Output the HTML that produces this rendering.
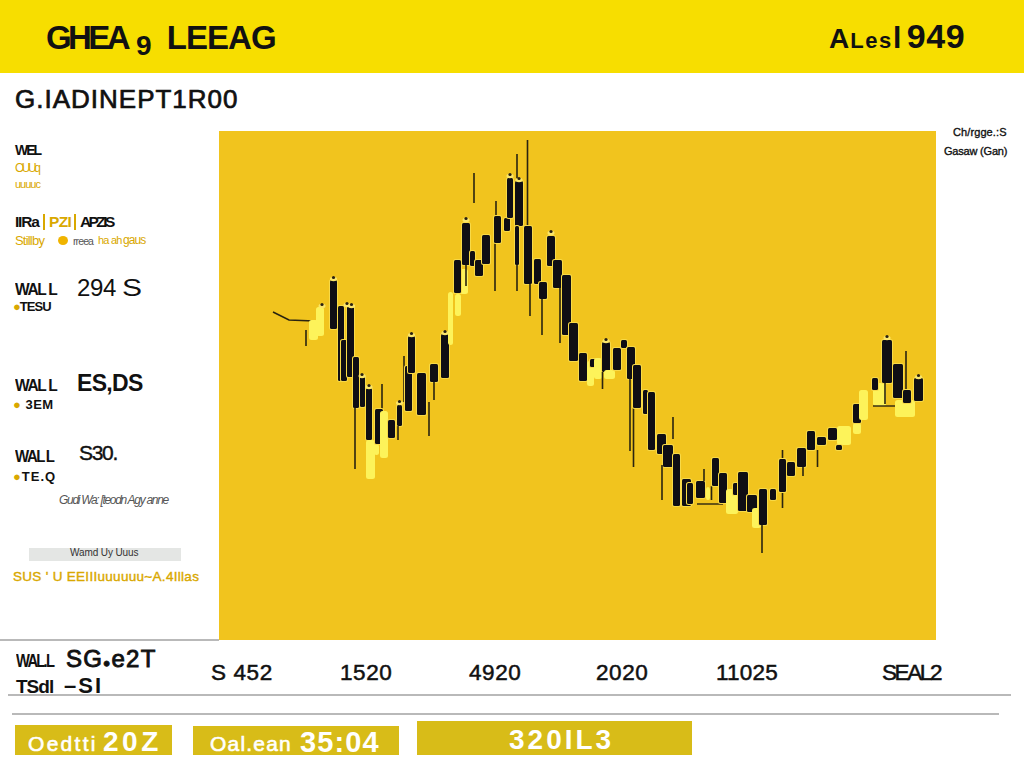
<!DOCTYPE html>
<html><head><meta charset="utf-8">
<style>
*{margin:0;padding:0;box-sizing:border-box}
html,body{width:1024px;height:768px;overflow:hidden;background:#fff;font-family:"Liberation Sans",sans-serif;color:#111}
.a{position:absolute;white-space:nowrap;line-height:1}
#hdr{position:absolute;left:0;top:0;width:1024px;height:73px;background:#F7DE00}
#chart{position:absolute;left:219px;top:131px;width:717px;height:509px;background:#F1C41E}
.hl{position:absolute;height:2px;background:#b9b9b9}
.btn{position:absolute;background:#D8BC18;color:#fff;font-weight:bold}
.gold{color:#D9A800}
</style></head><body>
<div id="hdr"></div>
<div class="a" id="t1" style="left:46px;top:21px;font-size:33px;font-weight:bold;letter-spacing:-0.9px"><span style="letter-spacing:-3.6px">GHEA</span><span style="font-size:28px;position:relative;top:6px;margin-left:9px;margin-right:16px">9</span>LEEAG</div>
<div class="a" id="t2" style="left:829px;top:19px;font-size:34px;font-weight:bold;letter-spacing:-0.6px"><span style="font-size:28px;letter-spacing:1px">A</span><span style="font-size:22px;letter-spacing:1.6px">Les</span><span style="font-size:30px">l</span><span style="margin-left:6px;letter-spacing:0.6px">949</span></div>
<div class="a" id="t3" style="left:15px;top:86px;font-size:26px;letter-spacing:1.0px;-webkit-text-stroke:0.7px #111">G.IADINEPT1R00</div>

<div id="chart"><svg id="cs" width="717" height="509" viewBox="0 0 717 509" style="position:absolute;left:0;top:0"><polyline points="54,181 70,189 95,190" fill="none" stroke="#2a2410" stroke-width="1.6"/><line x1="87" y1="199" x2="87" y2="215" stroke="#2a2410" stroke-width="1.6"/><rect x="90" y="189" width="9" height="20" rx="2.5" fill="#FDF35A"/><rect x="97" y="176" width="8" height="29" rx="2.5" fill="#FDF35A"/><rect x="111" y="149" width="7" height="49" rx="1.5" fill="#0f0e14" stroke="#F8DA48" stroke-width="2" paint-order="stroke"/><rect x="119" y="175" width="6" height="75" rx="1.5" fill="#0f0e14" stroke="#F8DA48" stroke-width="2" paint-order="stroke"/><rect x="122" y="209" width="6" height="41" rx="1.5" fill="#0f0e14" stroke="#F8DA48" stroke-width="2" paint-order="stroke"/><rect x="128" y="175" width="7" height="71" rx="1.5" fill="#0f0e14" stroke="#F8DA48" stroke-width="2" paint-order="stroke"/><rect x="134" y="226" width="6" height="51" rx="1.5" fill="#0f0e14" stroke="#F8DA48" stroke-width="2" paint-order="stroke"/><line x1="136" y1="277" x2="136" y2="338" stroke="#2a2410" stroke-width="1.6"/><rect x="141" y="245" width="5" height="31" rx="1.5" fill="#0f0e14" stroke="#F8DA48" stroke-width="2" paint-order="stroke"/><rect x="147" y="257" width="6" height="52" rx="1.5" fill="#0f0e14" stroke="#F8DA48" stroke-width="2" paint-order="stroke"/><rect x="147" y="309" width="9" height="39" rx="2.5" fill="#FDF35A"/><rect x="155" y="313" width="5" height="11" rx="2.5" fill="#FDF35A"/><line x1="163" y1="253" x2="163" y2="278" stroke="#2a2410" stroke-width="1.6"/><rect x="156" y="278" width="8" height="35" rx="1.5" fill="#0f0e14" stroke="#F8DA48" stroke-width="2" paint-order="stroke"/><rect x="161" y="280" width="8" height="47" rx="2.5" fill="#FDF35A"/><rect x="169" y="289" width="7" height="18" rx="1.5" fill="#0f0e14" stroke="#F8DA48" stroke-width="2" paint-order="stroke"/><rect x="178" y="274" width="5" height="21" rx="1.5" fill="#0f0e14" stroke="#F8DA48" stroke-width="2" paint-order="stroke"/><line x1="179" y1="295" x2="179" y2="309" stroke="#2a2410" stroke-width="1.6"/><line x1="185" y1="225" x2="185" y2="271" stroke="#2a2410" stroke-width="1.6"/><rect x="186" y="235" width="7" height="45" rx="1.5" fill="#0f0e14" stroke="#F8DA48" stroke-width="2" paint-order="stroke"/><rect x="189" y="205" width="7" height="37" rx="1.5" fill="#0f0e14" stroke="#F8DA48" stroke-width="2" paint-order="stroke"/><rect x="198" y="242" width="9" height="42" rx="1.5" fill="#0f0e14" stroke="#F8DA48" stroke-width="2" paint-order="stroke"/><line x1="210" y1="271" x2="210" y2="305" stroke="#2a2410" stroke-width="1.6"/><rect x="211" y="233" width="8" height="18" rx="1.5" fill="#0f0e14" stroke="#F8DA48" stroke-width="2" paint-order="stroke"/><line x1="215" y1="251" x2="215" y2="269" stroke="#2a2410" stroke-width="1.6"/><rect x="222" y="203" width="8" height="44" rx="1.5" fill="#0f0e14" stroke="#F8DA48" stroke-width="2" paint-order="stroke"/><rect x="229" y="161" width="5" height="53" rx="2.5" fill="#FDF35A"/><rect x="234" y="138" width="15" height="25" rx="2.5" fill="#FDF35A"/><rect x="236" y="163" width="6" height="22" rx="2.5" fill="#FDF35A"/><rect x="235" y="129" width="7" height="33" rx="1.5" fill="#0f0e14" stroke="#F8DA48" stroke-width="2" paint-order="stroke"/><rect x="243" y="92" width="8" height="42" rx="1.5" fill="#0f0e14" stroke="#F8DA48" stroke-width="2" paint-order="stroke"/><line x1="247" y1="134" x2="247" y2="155" stroke="#2a2410" stroke-width="1.6"/><line x1="255" y1="42" x2="255" y2="72" stroke="#2a2410" stroke-width="1.6"/><rect x="251" y="120" width="5" height="15" rx="1.5" fill="#0f0e14" stroke="#F8DA48" stroke-width="2" paint-order="stroke"/><rect x="256" y="129" width="8" height="16" rx="1.5" fill="#0f0e14" stroke="#F8DA48" stroke-width="2" paint-order="stroke"/><rect x="263" y="104" width="8" height="29" rx="1.5" fill="#0f0e14" stroke="#F8DA48" stroke-width="2" paint-order="stroke"/><line x1="276" y1="109" x2="276" y2="160" stroke="#2a2410" stroke-width="1.6"/><line x1="277" y1="70" x2="277" y2="86" stroke="#2a2410" stroke-width="1.6"/><rect x="275" y="85" width="7" height="27" rx="1.5" fill="#0f0e14" stroke="#F8DA48" stroke-width="2" paint-order="stroke"/><rect x="285" y="87" width="6" height="13" rx="1.5" fill="#0f0e14" stroke="#F8DA48" stroke-width="2" paint-order="stroke"/><rect x="288" y="47" width="6" height="40" rx="1.5" fill="#0f0e14" stroke="#F8DA48" stroke-width="2" paint-order="stroke"/><line x1="298" y1="23" x2="298" y2="51" stroke="#2a2410" stroke-width="1.6"/><rect x="296" y="50" width="8" height="45" rx="1.5" fill="#0f0e14" stroke="#F8DA48" stroke-width="2" paint-order="stroke"/><rect x="296" y="95" width="4" height="39" rx="1.5" fill="#0f0e14" stroke="#F8DA48" stroke-width="2" paint-order="stroke"/><line x1="298" y1="134" x2="298" y2="160" stroke="#2a2410" stroke-width="1.6"/><line x1="308.5" y1="9" x2="308.5" y2="97" stroke="#2a2410" stroke-width="1.6"/><rect x="305" y="95" width="8" height="58" rx="1.5" fill="#0f0e14" stroke="#F8DA48" stroke-width="2" paint-order="stroke"/><line x1="311" y1="153" x2="311" y2="185" stroke="#2a2410" stroke-width="1.6"/><rect x="315" y="128" width="7" height="25" rx="1.5" fill="#0f0e14" stroke="#F8DA48" stroke-width="2" paint-order="stroke"/><rect x="320" y="151" width="8" height="17" rx="1.5" fill="#0f0e14" stroke="#F8DA48" stroke-width="2" paint-order="stroke"/><line x1="323" y1="168" x2="323" y2="204" stroke="#2a2410" stroke-width="1.6"/><rect x="328" y="105" width="8" height="30" rx="1.5" fill="#0f0e14" stroke="#F8DA48" stroke-width="2" paint-order="stroke"/><rect x="334" y="129" width="9" height="28" rx="1.5" fill="#0f0e14" stroke="#F8DA48" stroke-width="2" paint-order="stroke"/><line x1="341" y1="157" x2="341" y2="212" stroke="#2a2410" stroke-width="1.6"/><rect x="343" y="144" width="9" height="60" rx="1.5" fill="#0f0e14" stroke="#F8DA48" stroke-width="2" paint-order="stroke"/><rect x="350" y="192" width="9" height="38" rx="1.5" fill="#0f0e14" stroke="#F8DA48" stroke-width="2" paint-order="stroke"/><rect x="360" y="222" width="8" height="28" rx="1.5" fill="#0f0e14" stroke="#F8DA48" stroke-width="2" paint-order="stroke"/><rect x="368" y="230" width="7" height="25" rx="2.5" fill="#FDF35A"/><rect x="371" y="228" width="6" height="8" rx="1.5" fill="#0f0e14" stroke="#F8DA48" stroke-width="2" paint-order="stroke"/><rect x="375" y="227" width="8" height="21" rx="2.5" fill="#FDF35A"/><rect x="383" y="211" width="8" height="30" rx="1.5" fill="#0f0e14" stroke="#F8DA48" stroke-width="2" paint-order="stroke"/><line x1="383.5" y1="241" x2="383.5" y2="258" stroke="#2a2410" stroke-width="1.6"/><rect x="385" y="239" width="11" height="9" rx="2.5" fill="#FDF35A"/><rect x="394" y="217" width="8" height="22" rx="1.5" fill="#0f0e14" stroke="#F8DA48" stroke-width="2" paint-order="stroke"/><rect x="402" y="209" width="6" height="8" rx="1.5" fill="#0f0e14" stroke="#F8DA48" stroke-width="2" paint-order="stroke"/><rect x="408" y="216" width="8" height="32" rx="1.5" fill="#0f0e14" stroke="#F8DA48" stroke-width="2" paint-order="stroke"/><line x1="411" y1="248" x2="411" y2="320" stroke="#2a2410" stroke-width="1.6"/><line x1="414.5" y1="277" x2="414.5" y2="336" stroke="#2a2410" stroke-width="1.6"/><rect x="414" y="234" width="8" height="43" rx="1.5" fill="#0f0e14" stroke="#F8DA48" stroke-width="2" paint-order="stroke"/><rect x="424" y="259" width="5" height="24" rx="1.5" fill="#0f0e14" stroke="#F8DA48" stroke-width="2" paint-order="stroke"/><rect x="429" y="261" width="7" height="58" rx="1.5" fill="#0f0e14" stroke="#F8DA48" stroke-width="2" paint-order="stroke"/><rect x="438" y="303" width="9" height="20" rx="1.5" fill="#0f0e14" stroke="#F8DA48" stroke-width="2" paint-order="stroke"/><rect x="444" y="314" width="10" height="22" rx="1.5" fill="#0f0e14" stroke="#F8DA48" stroke-width="2" paint-order="stroke"/><line x1="454" y1="286" x2="454" y2="308" stroke="#2a2410" stroke-width="1.6"/><line x1="443" y1="334" x2="443" y2="369" stroke="#2a2410" stroke-width="1.6"/><rect x="454" y="323" width="7" height="52" rx="1.5" fill="#0f0e14" stroke="#F8DA48" stroke-width="2" paint-order="stroke"/><rect x="463" y="348" width="9" height="27" rx="1.5" fill="#0f0e14" stroke="#F8DA48" stroke-width="2" paint-order="stroke"/><rect x="468" y="352" width="6" height="21" rx="1.5" fill="#0f0e14" stroke="#F8DA48" stroke-width="2" paint-order="stroke"/><rect x="477" y="350" width="9" height="17" rx="1.5" fill="#0f0e14" stroke="#F8DA48" stroke-width="2" paint-order="stroke"/><line x1="478" y1="373" x2="504" y2="373" stroke="#2a2410" stroke-width="1.4"/><rect x="487" y="356" width="4" height="13" rx="2.5" fill="#FDF35A"/><line x1="485" y1="338" x2="485" y2="350" stroke="#2a2410" stroke-width="1.6"/><line x1="492.5" y1="355" x2="492.5" y2="369" stroke="#2a2410" stroke-width="1.6"/><rect x="493" y="327" width="7" height="28" rx="1.5" fill="#0f0e14" stroke="#F8DA48" stroke-width="2" paint-order="stroke"/><rect x="500" y="342" width="8" height="30" rx="1.5" fill="#0f0e14" stroke="#F8DA48" stroke-width="2" paint-order="stroke"/><rect x="507" y="358" width="12" height="25" rx="2.5" fill="#FDF35A"/><rect x="514" y="352" width="6" height="12" rx="1.5" fill="#0f0e14" stroke="#F8DA48" stroke-width="2" paint-order="stroke"/><rect x="514" y="364" width="10" height="17" rx="2.5" fill="#FDF35A"/><rect x="519" y="341" width="10" height="39" rx="1.5" fill="#0f0e14" stroke="#F8DA48" stroke-width="2" paint-order="stroke"/><rect x="528" y="364" width="10" height="17" rx="1.5" fill="#0f0e14" stroke="#F8DA48" stroke-width="2" paint-order="stroke"/><rect x="533" y="377" width="9" height="20" rx="2.5" fill="#FDF35A"/><rect x="540" y="358" width="8" height="36" rx="1.5" fill="#0f0e14" stroke="#F8DA48" stroke-width="2" paint-order="stroke"/><line x1="543" y1="394" x2="543" y2="422" stroke="#2a2410" stroke-width="1.6"/><rect x="551" y="358" width="6" height="11" rx="1.5" fill="#0f0e14" stroke="#F8DA48" stroke-width="2" paint-order="stroke"/><line x1="563.5" y1="319" x2="563.5" y2="328" stroke="#2a2410" stroke-width="1.6"/><line x1="563.5" y1="361" x2="563.5" y2="377" stroke="#2a2410" stroke-width="1.6"/><rect x="560" y="328" width="7" height="33" rx="1.5" fill="#0f0e14" stroke="#F8DA48" stroke-width="2" paint-order="stroke"/><rect x="568" y="331" width="8" height="14" rx="1.5" fill="#0f0e14" stroke="#F8DA48" stroke-width="2" paint-order="stroke"/><rect x="578" y="317" width="9" height="19" rx="1.5" fill="#0f0e14" stroke="#F8DA48" stroke-width="2" paint-order="stroke"/><line x1="584" y1="336" x2="584" y2="345" stroke="#2a2410" stroke-width="1.6"/><rect x="588" y="300" width="8" height="19" rx="1.5" fill="#0f0e14" stroke="#F8DA48" stroke-width="2" paint-order="stroke"/><line x1="598.5" y1="319" x2="598.5" y2="336" stroke="#2a2410" stroke-width="1.6"/><rect x="598" y="306" width="9" height="8" rx="1.5" fill="#0f0e14" stroke="#F8DA48" stroke-width="2" paint-order="stroke"/><rect x="609" y="297" width="9" height="12" rx="1.5" fill="#0f0e14" stroke="#F8DA48" stroke-width="2" paint-order="stroke"/><rect x="618" y="295" width="14" height="19" rx="2.5" fill="#FDF35A"/><rect x="617" y="314" width="6" height="5" rx="1.5" fill="#0f0e14" stroke="#F8DA48" stroke-width="2" paint-order="stroke"/><rect x="634" y="292" width="8" height="11" rx="2.5" fill="#FDF35A"/><rect x="634" y="273" width="8" height="19" rx="1.5" fill="#0f0e14" stroke="#F8DA48" stroke-width="2" paint-order="stroke"/><rect x="640" y="259" width="9" height="30" rx="2.5" fill="#FDF35A"/><rect x="654" y="252" width="13" height="23" rx="2.5" fill="#FDF35A"/><rect x="653" y="247" width="6" height="12" rx="1.5" fill="#0f0e14" stroke="#F8DA48" stroke-width="2" paint-order="stroke"/><line x1="654" y1="275" x2="676" y2="275" stroke="#2a2410" stroke-width="1.4"/><rect x="663" y="209" width="10" height="43" rx="1.5" fill="#0f0e14" stroke="#F8DA48" stroke-width="2" paint-order="stroke"/><line x1="666" y1="252" x2="666" y2="273" stroke="#2a2410" stroke-width="1.6"/><rect x="676" y="269" width="20" height="17" rx="2.5" fill="#FDF35A"/><rect x="674" y="233" width="10" height="34" rx="1.5" fill="#0f0e14" stroke="#F8DA48" stroke-width="2" paint-order="stroke"/><line x1="687" y1="220" x2="687" y2="258" stroke="#2a2410" stroke-width="1.6"/><rect x="684" y="259" width="8" height="13" rx="1.5" fill="#0f0e14" stroke="#F8DA48" stroke-width="2" paint-order="stroke"/><rect x="695" y="247" width="9" height="23" rx="1.5" fill="#0f0e14" stroke="#F8DA48" stroke-width="2" paint-order="stroke"/><ellipse cx="114.5" cy="148" rx="3.5" ry="2.2" fill="#FBE66A"/><circle cx="114.5" cy="146.5" r="1.6" fill="#2a2010"/><ellipse cx="103" cy="175" rx="3.5" ry="2.2" fill="#FBE66A"/><circle cx="103" cy="173.5" r="1.6" fill="#2a2010"/><ellipse cx="128" cy="174" rx="3.5" ry="2.2" fill="#FBE66A"/><circle cx="128" cy="172.5" r="1.6" fill="#2a2010"/><ellipse cx="132.5" cy="175" rx="3.5" ry="2.2" fill="#FBE66A"/><circle cx="132.5" cy="173.5" r="1.6" fill="#2a2010"/><ellipse cx="150" cy="256" rx="3.5" ry="2.2" fill="#FBE66A"/><circle cx="150" cy="254.5" r="1.6" fill="#2a2010"/><ellipse cx="143" cy="245" rx="3.5" ry="2.2" fill="#FBE66A"/><circle cx="143" cy="243.5" r="1.6" fill="#2a2010"/><ellipse cx="180.5" cy="272" rx="3.5" ry="2.2" fill="#FBE66A"/><circle cx="180.5" cy="270.5" r="1.6" fill="#2a2010"/><ellipse cx="192.5" cy="204" rx="3.5" ry="2.2" fill="#FBE66A"/><circle cx="192.5" cy="202.5" r="1.6" fill="#2a2010"/><ellipse cx="226" cy="202" rx="3.5" ry="2.2" fill="#FBE66A"/><circle cx="226" cy="200.5" r="1.6" fill="#2a2010"/><ellipse cx="247" cy="89" rx="3.5" ry="2.2" fill="#FBE66A"/><circle cx="247" cy="87.5" r="1.6" fill="#2a2010"/><ellipse cx="291" cy="45" rx="3.5" ry="2.2" fill="#FBE66A"/><circle cx="291" cy="43.5" r="1.6" fill="#2a2010"/><ellipse cx="300" cy="49" rx="3.5" ry="2.2" fill="#FBE66A"/><circle cx="300" cy="47.5" r="1.6" fill="#2a2010"/><ellipse cx="332" cy="102" rx="3.5" ry="2.2" fill="#FBE66A"/><circle cx="332" cy="100.5" r="1.6" fill="#2a2010"/><ellipse cx="387" cy="210" rx="3.5" ry="2.2" fill="#FBE66A"/><circle cx="387" cy="208.5" r="1.6" fill="#2a2010"/><ellipse cx="668" cy="207" rx="3.5" ry="2.2" fill="#FBE66A"/><circle cx="668" cy="205.5" r="1.6" fill="#2a2010"/><ellipse cx="699.5" cy="246" rx="3.5" ry="2.2" fill="#FBE66A"/><circle cx="699.5" cy="244.5" r="1.6" fill="#2a2010"/></svg></div>

<!-- right legend -->
<div class="a" style="left:953px;top:127px;font-size:11px;letter-spacing:0.1px;-webkit-text-stroke:0.35px #111">Ch/rgge.:S</div>
<div class="a" style="left:944px;top:146px;font-size:11px;letter-spacing:-0.2px;-webkit-text-stroke:0.35px #111">Gasaw (Gan)</div>

<!-- left labels -->
<div class="a" style="left:15px;top:143px;font-size:14px;font-weight:bold;letter-spacing:-2px">WEL</div>
<div class="a gold" style="left:15px;top:162px;font-size:12px;letter-spacing:-2.5px">OUUq</div>
<div class="a gold" style="left:15px;top:179px;font-size:11px;letter-spacing:-1px">uuuuc</div>

<div class="a" style="left:15px;top:214px;font-size:15.5px;font-weight:bold;letter-spacing:-1.2px">IIRa</div>
<div style="position:absolute;left:43px;top:214px;width:1.5px;height:16px;background:#D9A800"></div>
<div class="a gold" style="left:49px;top:214px;font-size:15.5px;font-weight:bold;letter-spacing:-0.6px">PZI</div>
<div style="position:absolute;left:74px;top:214px;width:1.5px;height:16px;background:#D9A800"></div>
<div class="a" style="left:80px;top:214px;font-size:15.5px;font-weight:bold;letter-spacing:-2.6px">APZIS</div>
<div class="a gold" style="left:15px;top:234px;font-size:13px;letter-spacing:-0.8px">Stillby</div>
<div style="position:absolute;left:58px;top:236px;width:10px;height:9px;border-radius:50%;background:#F0B400"></div>
<div class="a" style="left:73px;top:236px;font-size:10.5px;letter-spacing:-0.9px;color:#555">rreea</div>
<div class="a gold" style="left:98px;top:235px;font-size:11px;letter-spacing:-0.8px">ha ah</div>
<div class="a gold" style="left:123px;top:234px;font-size:12px;letter-spacing:-0.9px">gaus</div>

<div class="a" style="left:15px;top:281px;font-size:16.5px;font-weight:bold;letter-spacing:-1.4px;transform:scaleX(0.94);transform-origin:left">WAL<span style="margin-left:3px">L</span></div>
<div class="a" style="left:77px;top:276px;font-size:24px;letter-spacing:-0.3px">294</div><div class="a" style="left:122px;top:276px;font-size:24px;transform:scaleX(1.25);transform-origin:left">S</div>
<div class="a" style="left:13px;top:300px;font-size:13px;font-weight:bold;letter-spacing:-1px"><span class="gold">&#9679;</span>TESU</div>

<div class="a" style="left:15px;top:377px;font-size:16.5px;font-weight:bold;letter-spacing:-1.4px;transform:scaleX(0.94);transform-origin:left">WAL<span style="margin-left:3px">L</span></div>
<div class="a" style="left:77px;top:372px;font-size:23px;font-weight:bold;letter-spacing:-0.7px">ES,DS</div>
<div class="a" style="left:13px;top:398px;font-size:13px;font-weight:bold;letter-spacing:0.5px"><span class="gold">&#9679;</span> 3EM</div>

<div class="a" style="left:15px;top:448px;font-size:17px;font-weight:bold;letter-spacing:-1.6px;transform:scaleX(0.88);transform-origin:left">WAL<span style="margin-left:2px">L</span></div>
<div class="a" style="left:79px;top:442px;font-size:21px;letter-spacing:-1.3px;-webkit-text-stroke:0.4px #111">S30.</div>
<div class="a" style="left:13px;top:470px;font-size:13px;font-weight:bold;letter-spacing:1px"><span class="gold">&#9679;</span>TE.Q</div>

<div class="a" style="left:59px;top:494px;font-size:12px;color:#555;letter-spacing:-1.3px;font-style:italic">Gudi Wa: [teodn Agy anne</div>
<div style="position:absolute;left:29px;top:548px;width:152px;height:13px;background:#e4e6e4"></div>
<div class="a" style="left:70px;top:548px;font-size:10px;color:#333;letter-spacing:-0.1px">Wamd Uy Uuus</div>
<div class="a gold" style="left:13px;top:570px;font-size:13.5px;letter-spacing:0.3px;-webkit-text-stroke:0.4px #D9A800">SUS ' U EEIIIuuuuuu~A.4Illas</div>

<!-- lines -->
<div class="hl" style="left:0;top:639px;width:219px"></div>
<div class="hl" style="left:8px;top:694px;width:1003px"></div>
<div class="hl" style="left:12px;top:713px;width:987px"></div>

<!-- bottom left labels -->
<div class="a" style="left:16px;top:653px;font-size:17.5px;font-weight:bold;letter-spacing:-2px;transform:scaleX(0.84);transform-origin:left">WAL.L</div>
<div class="a" style="left:66px;top:647px;font-size:24px;-webkit-text-stroke:0.9px #111;letter-spacing:1.2px">SG<span style="font-size:12px">&#9679;</span>e2T</div>
<div class="a" style="left:16px;top:677px;font-size:19px;font-weight:bold;letter-spacing:-1px">TSdl</div>
<div class="a" style="left:64px;top:675px;font-size:22px;font-weight:bold;letter-spacing:2px">&#8211;SI</div>

<!-- x axis labels -->
<div class="a" style="left:211px;top:662px;font-size:22.5px;letter-spacing:0.6px;-webkit-text-stroke:0.5px #111">S 452</div>
<div class="a" style="left:340px;top:662px;font-size:22.5px;letter-spacing:0.6px;-webkit-text-stroke:0.5px #111">1520</div>
<div class="a" style="left:469px;top:662px;font-size:22.5px;letter-spacing:0.6px;-webkit-text-stroke:0.5px #111">4920</div>
<div class="a" style="left:596px;top:662px;font-size:22.5px;letter-spacing:0.6px;-webkit-text-stroke:0.5px #111">2020</div>
<div class="a" style="left:716px;top:662px;font-size:22.5px;letter-spacing:0.2px;-webkit-text-stroke:0.5px #111">11025</div>
<div class="a" style="left:882px;top:662px;font-size:22.5px;letter-spacing:-2.4px;-webkit-text-stroke:0.5px #111">SEAL2</div>

<!-- buttons -->
<div class="btn" style="left:15px;top:725px;width:157px;height:30px"></div>
<div class="a" style="left:28px;top:733px;font-size:21px;color:#fff;letter-spacing:2.3px;-webkit-text-stroke:0.6px #fff">Oedtti</div><div class="a" style="left:103px;top:728px;font-size:28px;font-weight:bold;color:#fff;letter-spacing:3.5px">20Z</div>
<div class="btn" style="left:193px;top:726px;width:206px;height:29px"></div>
<div class="a" style="left:210px;top:733px;font-size:21px;color:#fff;letter-spacing:1.2px;-webkit-text-stroke:0.6px #fff">Oal.ean</div><div class="a" style="left:300px;top:728px;font-size:29px;font-weight:bold;color:#fff;letter-spacing:1.1px">35:04</div>
<div class="btn" style="left:417px;top:721px;width:275px;height:34px"></div>
<div class="a" style="left:509px;top:726px;font-size:28px;font-weight:bold;color:#fff;letter-spacing:3px">320IL3</div>
</body></html>
